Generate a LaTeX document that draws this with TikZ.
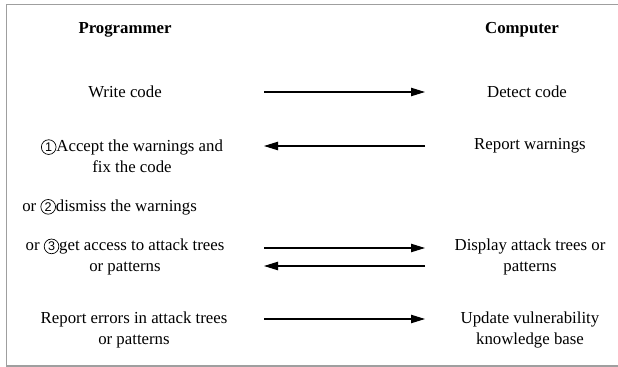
\documentclass[tikz,border=0pt]{standalone}
\usepackage{fontspec}
\setmainfont{Liberation Serif}
\setsansfont{Liberation Sans}
\usetikzlibrary{arrows.meta}

\newcommand{\circnum}[1]{\tikz[baseline=(n.base)]\node[circle, draw, line width=0.5pt, inner sep=0.6pt, minimum size=10.5pt, font=\sffamily\fontsize{9}{10}\selectfont] (n) {#1};}

\begin{document}
\begin{tikzpicture}[x=0.0251cm,y=-0.0251cm,
        txt/.style={align=center, font=\fontsize{12}{15}\selectfont, inner sep=0pt},
        head/.style={txt, font=\fontsize{12}{15}\selectfont\bfseries},
        arrow/.style={-{Triangle[length=10pt,width=6pt]}, line width=0.75pt}
      ]
        \useasboundingbox (0,0) rectangle (618,367);
        \draw[gray!75, line width=1.4pt] (619,4.5) -- (6.5,4.5) -- (6.5,366) -- (619,366);
        \node[head] (prog) at (125,30) {Programmer};
        \node[head] (comp) at (522,30) {Computer};
        \node[txt] (write) at (125,92) {Write code};
        \node[txt] (detect) at (527,92) {Detect code};
        \node[txt] (accept) at (132,156) {\circnum{1}Accept the warnings and\\fix the code};
        \node[txt] (report) at (530,146) {Report warnings};
        \node[txt, anchor=west] (dismiss) at (22,207) {or \circnum{2}dismiss the warnings};
        \node[txt] (access) at (125,257) {or \circnum{3}get access to attack trees\\or patterns};
        \node[txt] (display) at (530,257) {Display attack trees or\\patterns};
        \node[txt] (errors) at (134,330) {Report errors in attack trees\\or patterns};
        \node[txt] (update) at (530,330) {Update vulnerability\\knowledge base};
        \coordinate (l1) at (264,92);   \coordinate (r1) at (425,92);
        \coordinate (l2) at (264,146);  \coordinate (r2) at (425,146);
        \coordinate (l3) at (264,248);  \coordinate (r3) at (425,248);
        \coordinate (l4) at (264,266);  \coordinate (r4) at (425,266);
        \coordinate (l5) at (264,319);  \coordinate (r5) at (425,319);
        \draw[arrow] (l1) -- (r1);
        \draw[arrow] (r2) -- (l2);
        \draw[arrow] (l3) -- (r3);
        \draw[arrow] (r4) -- (l4);
        \draw[arrow] (l5) -- (r5);
      \end{tikzpicture}
\end{document}
